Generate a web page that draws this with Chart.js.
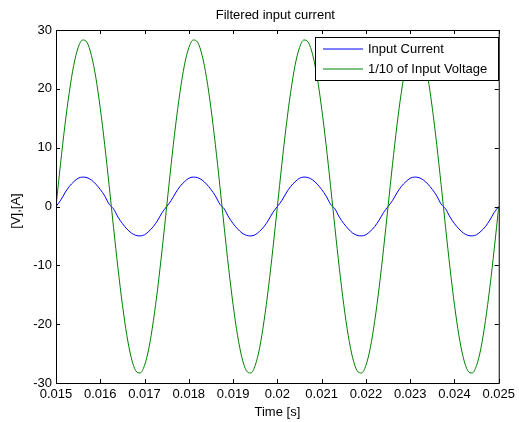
<!DOCTYPE html>
<html>
<head>
<meta charset="utf-8">
<style>
  html, body { margin: 0; padding: 0; background: #fff; overflow: hidden; }
  #wrap { width: 519px; height: 422px; }
</style>
<script src="https://cdn.jsdelivr.net/npm/chart.js@4.4.1/dist/chart.umd.min.js"></script>
</head>
<body>
<div id="wrap"><canvas id="myChart" width="519" height="422"></canvas></div>
<script>
// samples every 0.1 ms
const time = [
  0.0150, 0.0151, 0.0152, 0.0153, 0.0154, 0.0155, 0.0156, 0.0157, 0.0158, 0.0159,
  0.0160, 0.0161, 0.0162, 0.0163, 0.0164, 0.0165, 0.0166, 0.0167, 0.0168, 0.0169,
  0.0170, 0.0171, 0.0172, 0.0173, 0.0174, 0.0175, 0.0176, 0.0177, 0.0178, 0.0179,
  0.0180, 0.0181, 0.0182, 0.0183, 0.0184, 0.0185, 0.0186, 0.0187, 0.0188, 0.0189,
  0.0190, 0.0191, 0.0192, 0.0193, 0.0194, 0.0195, 0.0196, 0.0197, 0.0198, 0.0199,
  0.0200, 0.0201, 0.0202, 0.0203, 0.0204, 0.0205, 0.0206, 0.0207, 0.0208, 0.0209,
  0.0210, 0.0211, 0.0212, 0.0213, 0.0214, 0.0215, 0.0216, 0.0217, 0.0218, 0.0219,
  0.0220, 0.0221, 0.0222, 0.0223, 0.0224, 0.0225, 0.0226, 0.0227, 0.0228, 0.0229,
  0.0230, 0.0231, 0.0232, 0.0233, 0.0234, 0.0235, 0.0236, 0.0237, 0.0238, 0.0239,
  0.0240, 0.0241, 0.0242, 0.0243, 0.0244, 0.0245, 0.0246, 0.0247, 0.0248, 0.0249,
  0.0250
];

const current = [
  0, 1.0, 2.3, 3.4, 4.2, 4.8, 5.0, 4.9, 4.5, 3.8, 2.9, 1.8, 0.4, -0.4, -1.8, -2.9, -3.8, -4.5, -4.9, -5.0, -4.8, -4.2, -3.4, -2.3, -1.0,
  0, 1.0, 2.3, 3.4, 4.2, 4.8, 5.0, 4.9, 4.5, 3.8, 2.9, 1.8, 0.4, -0.4, -1.8, -2.9, -3.8, -4.5, -4.9, -5.0, -4.8, -4.2, -3.4, -2.3, -1.0,
  0, 1.0, 2.3, 3.4, 4.2, 4.8, 5.0, 4.9, 4.5, 3.8, 2.9, 1.8, 0.4, -0.4, -1.8, -2.9, -3.8, -4.5, -4.9, -5.0, -4.8, -4.2, -3.4, -2.3, -1.0,
  0, 1.0, 2.3, 3.4, 4.2, 4.8, 5.0, 4.9, 4.5, 3.8, 2.9, 1.8, 0.4, -0.4, -1.8, -2.9, -3.8, -4.5, -4.9, -5.0, -4.8, -4.2, -3.4, -2.3, -1.0,
  0
];

const voltage = [
  0, 7.1, 13.7, 19.4, 24.0, 27.0, 28.3, 27.9, 25.7, 21.9, 16.7, 10.5, 3.6, -3.6, -10.5, -16.7, -21.9, -25.7, -27.9, -28.3, -27.0, -24.0, -19.4, -13.7, -7.1,
  0, 7.1, 13.7, 19.4, 24.0, 27.0, 28.3, 27.9, 25.7, 21.9, 16.7, 10.5, 3.6, -3.6, -10.5, -16.7, -21.9, -25.7, -27.9, -28.3, -27.0, -24.0, -19.4, -13.7, -7.1,
  0, 7.1, 13.7, 19.4, 24.0, 27.0, 28.3, 27.9, 25.7, 21.9, 16.7, 10.5, 3.6, -3.6, -10.5, -16.7, -21.9, -25.7, -27.9, -28.3, -27.0, -24.0, -19.4, -13.7, -7.1,
  0, 7.1, 13.7, 19.4, 24.0, 27.0, 28.3, 27.9, 25.7, 21.9, 16.7, 10.5, 3.6, -3.6, -10.5, -16.7, -21.9, -25.7, -27.9, -28.3, -27.0, -24.0, -19.4, -13.7, -7.1,
  0
];

const xTicks = [0.015, 0.016, 0.017, 0.018, 0.019, 0.02, 0.021, 0.022, 0.023, 0.024, 0.025];
const xTickLabels = ['0.015', '0.016', '0.017', '0.018', '0.019', '0.02', '0.021', '0.022', '0.023', '0.024', '0.025'];
const yTicks = [-30, -20, -10, 0, 10, 20, 30];

const seriesNames = ['Input Current', '1/10 of Input Voltage'];
const seriesColors = ['#0000ff', '#008000'];

const FONT = '"Liberation Sans", Arial, sans-serif';

// box, inward ticks, titles and legend, matlab style
const axesBox = {
  id: 'axesBox',
  afterDraw(chart) {
    const { ctx, chartArea: a, scales: { x, y } } = chart;
    ctx.save();
    ctx.strokeStyle = '#000';
    ctx.lineWidth = 1;
    ctx.strokeRect(a.left + 0.5, a.top + 0.5, a.right - a.left, a.bottom - a.top);

    ctx.beginPath();
    xTicks.forEach(v => {
      const px = Math.round(x.getPixelForValue(v)) + 0.5;
      ctx.moveTo(px, a.bottom); ctx.lineTo(px, a.bottom - 4);
      ctx.moveTo(px, a.top); ctx.lineTo(px, a.top + 4);
    });
    yTicks.forEach(v => {
      const py = Math.round(y.getPixelForValue(v)) + 0.5;
      ctx.moveTo(a.left, py); ctx.lineTo(a.left + 4, py);
      ctx.moveTo(a.right, py); ctx.lineTo(a.right - 4, py);
    });
    ctx.stroke();

    ctx.fillStyle = '#000';
    ctx.font = '13px ' + FONT;
    ctx.textAlign = 'center';
    ctx.textBaseline = 'middle';
    const cx = (a.left + a.right) / 2;
    ctx.fillText('Filtered input current', cx - 2, 15);
    ctx.fillText('Time [s]', cx, 412);
    ctx.save();
    ctx.translate(16, 211);
    ctx.rotate(-Math.PI / 2);
    ctx.fillText('[V],[A]', 0, 0);
    ctx.restore();

    // legend
    const lx = 315, ly = 37, lw = 183, lh = 43;
    ctx.fillStyle = '#fff';
    ctx.fillRect(lx, ly, lw, lh);
    ctx.strokeStyle = '#000';
    ctx.strokeRect(lx + 0.5, ly + 0.5, lw, lh);
    ctx.textAlign = 'left';
    seriesNames.forEach((name, i) => {
      const ry = ly + 12 + i * 20;
      ctx.beginPath();
      ctx.moveTo(323, ry);
      ctx.lineTo(363, ry);
      ctx.strokeStyle = seriesColors[i];
      ctx.lineWidth = 1.2;
      ctx.stroke();
      ctx.fillStyle = '#000';
      ctx.fillText(name, 368, ry);
    });
    ctx.restore();
  }
};

const data = {
  datasets: [
    {
      label: seriesNames[0],
      data: time.map((t, i) => ({ x: t, y: current[i] })),
      borderColor: seriesColors[0],
      order: 1
    },
    {
      label: seriesNames[1],
      data: time.map((t, i) => ({ x: t, y: voltage[i] })),
      borderColor: seriesColors[1],
      order: 0
    }
  ]
};

const config = {
  type: 'line',
  data,
  options: {
    responsive: false,
    animation: false,
    devicePixelRatio: 1,
    layout: { padding: { left: 0, right: 16, top: 30, bottom: 0 } },
    elements: {
      line: { borderWidth: 1, cubicInterpolationMode: 'monotone', fill: false },
      point: { radius: 0 }
    },
    plugins: {
      legend: { display: false },
      tooltip: { enabled: false },
      title: { display: false }
    },
    scales: {
      x: {
        type: 'linear',
        min: 0.015,
        max: 0.025,
        grid: { display: false, drawTicks: false },
        border: { display: false },
        afterBuildTicks: s => { s.ticks = xTicks.map(v => ({ value: v })); },
        afterFit: s => { s.height = 39; },
        ticks: {
          autoSkip: false,
          maxRotation: 0,
          padding: 4,
          color: '#000',
          font: { family: FONT, size: 13 },
          callback: (v) => xTickLabels[xTicks.findIndex(t => Math.abs(t - v) < 1e-9)]
        }
      },
      y: {
        min: -30,
        max: 30,
        grid: { display: false, drawTicks: false },
        border: { display: false },
        afterBuildTicks: s => { s.ticks = yTicks.map(v => ({ value: v })); },
        afterFit: s => { s.width = 56; },
        ticks: {
          padding: 4,
          color: '#000',
          font: { family: FONT, size: 13 },
          callback: v => String(v)
        }
      }
    }
  },
  plugins: [axesBox]
};

const myChart = new Chart(document.getElementById('myChart'), config);
</script>
</body>
</html>
